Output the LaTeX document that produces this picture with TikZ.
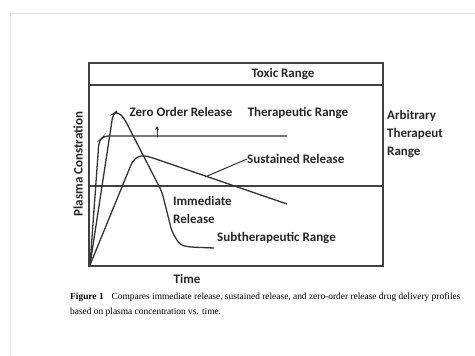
\documentclass[tikz,border=0pt]{standalone}
\usepackage{fontspec}
\setmainfont{Liberation Serif}
\newfontfamily\chartfont{Carlito}
\usepackage{tikz}
\usetikzlibrary{positioning,arrows.meta}

\begin{document}
\begin{tikzpicture}[x=1pt, y=-1pt,
	lbl/.style = {font=\chartfont\bfseries\fontsize{13}{18}\selectfont, inner sep=0pt, text=black!85},
	frame/.style = {line width=1.2pt, black!75},
	curve/.style = {line width=1.3pt, black!80, rounded corners=5pt}]
	\useasboundingbox (0,0) rectangle (475,356);
	\draw[black!10, line width=1pt] (10,356) -- (10,13) -- (475,13);
	% chart box
	\draw[frame] (89,63) rectangle (383,266);
	\draw[frame] (89,85) -- (383,85);
	\draw[frame] (89,186) -- (383,186);
	\coordinate (0) at (90,265);
	% release profiles
	\draw[curve, rounded corners=4pt] (0) -- (99,141) -- (104,136) -- (287,136);
	\draw[curve] (0) -- (113,114) -- (117,111) -- (124,118) -- (162,192) -- (172,232) -- (180,245) -- (189,247) -- (214,248);
	\draw[curve] (0) -- (133,160) -- (141,155) -- (150,157) -- (287,204);
	\draw[-{Stealth[length=4pt,width=4pt]}, line width=0.9pt, black!80] (157,137) -- (157,126);
	% labels
	\node[lbl] (1) at (283,74) {Toxic Range};
	\node[lbl] (2) at (181,112) {Zero Order Release};
	\node[lbl] (3) at (298,113) {Therapeutic Range};
	\node[lbl, anchor=north west, align=left] (4) at (387,110) {Arbitrary\\Therapeut\\Range};
	\node[lbl, anchor=west] (5) at (247,159) {Sustained Release};
	\node[lbl, anchor=north west, align=left] (6) at (173,196) {Immediate\\Release};
	\node[lbl, anchor=west] (7) at (217,238) {Subtherapeutic Range};
	\node[lbl] (8) at (187,279) {Time};
	\node[lbl, rotate=90] (9) at (78,164) {Plasma Constration};
	\coordinate (s) at (205,177);
	\draw[line width=1pt, black!80] (s) -- (5.west);
	% caption
	\node[anchor=west, inner sep=0pt, font=\fontsize{9.4}{11}\selectfont] (10) at (70,297) {\textbf{Figure 1}\hspace{8pt}Compares immediate release, sustained release, and zero-order release drug delivery profiles};
	\node[anchor=west, inner sep=0pt, font=\fontsize{9.4}{11}\selectfont] (11) at (70,312) {based on plasma concentration vs. time.};
\end{tikzpicture}
\end{document}
